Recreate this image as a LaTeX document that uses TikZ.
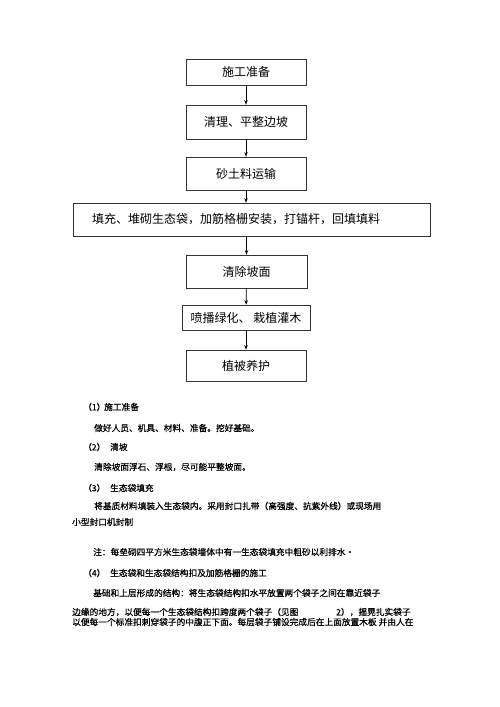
\documentclass[tikz,border=0pt]{standalone}
\usepackage{fontspec}
\setmainfont{Noto Sans CJK SC}
\newfontfamily\cjk{Noto Sans CJK SC}
\newfontfamily\cjkbody[FakeBold=0.6]{Noto Sans CJK SC}
\usetikzlibrary{arrows.meta}
\tikzset{
  flowbox/.style={draw=black!80, line width=0.7pt, minimum width=120pt, inner sep=0pt, font=\cjk\fontsize{12}{12}\selectfont},
  flowarrow/.style={draw=black, line width=0.7pt, -{Stealth[length=4.5pt,width=3.5pt]}},
  bodytext/.style={anchor=west, inner sep=0pt, font=\cjkbody\fontsize{8.7}{9}\selectfont}
}
\begin{document}
\begin{tikzpicture}[x=1pt,y=-1pt]
\useasboundingbox (0,0) rectangle (500,707);
% flowchart
\node[flowbox, minimum height=26pt] (b1) at (246,72) {施工准备};
\node[flowbox, minimum height=34pt] (b2) at (246,122) {清理、平整边坡};
\node[flowbox, minimum height=33pt] (b3) at (246,173.5) {砂土料运输};
\node[flowbox, minimum height=33pt, text width=319pt, inner xsep=19pt, align=left] (b4) at (251.5,219.5) {填充、堆砌生态袋，加筋格栅安装，打锚杆，回填填料};
\node[flowbox, minimum height=33pt, minimum width=121pt] (b5) at (246.5,271.5) {清除坡面};
\node[flowbox, minimum height=25pt, minimum width=128pt] (b6) at (246,317.5) {喷播绿化、 栽植灌木};
\node[flowbox, minimum height=31pt] (b7) at (246,365.5) {植被养护};
\draw[flowarrow] (b1) -- (b2);
\draw[flowarrow] (b2) -- (b3);
\draw[flowarrow] (b3.south) -- (b3.south |- b4.north);
\draw[flowarrow] (b5.north |- b4.south) -- (b5.north);
\draw[flowarrow] (b5) -- (b6);
\draw[flowarrow] (b6) -- (b7);
% body text
\node[bodytext] (t1a) at (83,407) {（1）};
\node[bodytext] (t1b) at (104,407) {施工准备};
\node[bodytext] (t2) at (94,428) {做好人员、机具、材料、准备。挖好基础。};
\node[bodytext] (t3a) at (83,447) {（2）};
\node[bodytext] (t3b) at (110,447) {清坡};
\node[bodytext] (t4) at (94,467) {清除坡面浮石、浮根，尽可能平整坡面。};
\node[bodytext] (t5a) at (83,488) {（3）};
\node[bodytext] (t5b) at (110,488) {生态袋填充};
\node[bodytext] (t6) at (94,506) {将基质材料填装入生态袋内。采用封口扎带（高强度、抗紫外线）或现场用};
\node[bodytext] (t7) at (72,522) {小型封口机封制};
\node[bodytext] (t8) at (93,552) {注：每垒砌四平方米生态袋墙体中有一生态袋填充中粗砂以利排水·};
\node[bodytext] (t9a) at (83,573) {（4）};
\node[bodytext] (t9b) at (110,573) {生态袋和生态袋结构扣及加筋格栅的施工};
\node[bodytext] (t10) at (93,593) {基础和上层形成的结构：将生态袋结构扣水平放置两个袋子之间在靠近袋子};
\node[bodytext] (t11a) at (72,612) {边缘的地方，以便每一个生态袋结构扣跨度两个袋子（见图};
\node[bodytext] (t11b) at (336,612) {2），摇晃扎实袋子};
\node[bodytext] (t12) at (72,622) {以便每一个标准扣刺穿袋子的中腹正下面。每层袋子铺设完成后在上面放置木板\ 并由人在};
\end{tikzpicture}
\end{document}
